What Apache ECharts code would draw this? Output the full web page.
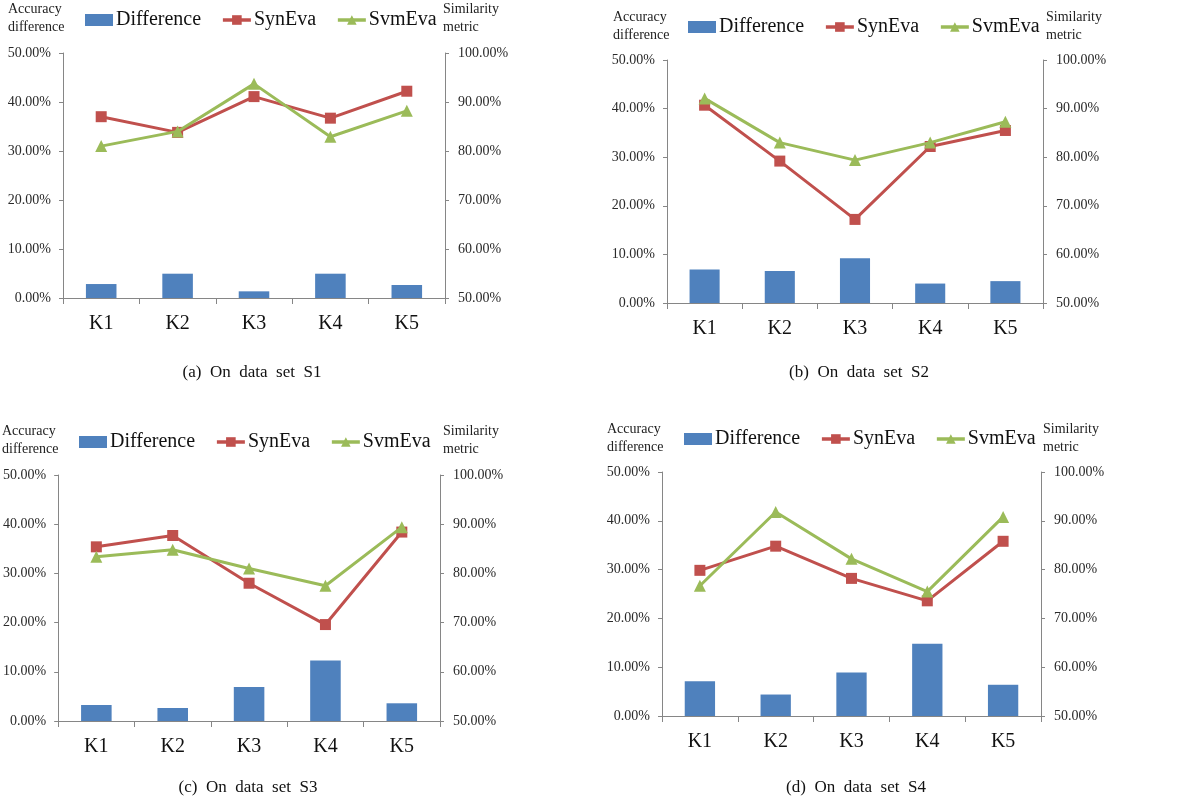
<!DOCTYPE html>
<html>
<head>
<meta charset="utf-8">
<script src="https://cdn.jsdelivr.net/npm/echarts@6/dist/echarts.min.js"></script>
<style>
html,body{margin:0;padding:0;background:#fff;}
#main{width:1182px;height:805px;}
</style>
</head>
<body>
<div id="main"></div>
<script>
const categories = ['K1','K2','K3','K4','K5'];
const leftTicks = [0, 10, 20, 30, 40, 50];
const rightTicks = [50, 60, 70, 80, 90, 100];

const diffS1 = [2.85, 4.96, 1.36, 4.96, 2.65];
const synS1  = [87.0, 83.8, 91.1, 86.7, 92.2];
const svmS1  = [81.0, 84.0, 93.7, 82.9, 88.2];

const diffS2 = [6.9, 6.6, 9.2, 4.0, 4.5];
const synS2  = [90.7, 79.2, 67.2, 82.2, 85.5];
const svmS2  = [92.1, 83.0, 79.4, 83.0, 87.3];

const diffS3 = [3.25, 2.64, 6.9, 12.3, 3.6];
const synS3  = [85.4, 87.7, 78.0, 69.6, 88.4];
const svmS3  = [83.4, 84.8, 81.0, 77.5, 89.4];

const diffS4 = [7.1, 4.4, 8.9, 14.8, 6.4];
const synS4  = [79.85, 84.8, 78.2, 73.6, 85.8];
const svmS4  = [76.7, 91.8, 82.2, 75.5, 90.8];

const captions = ['(a)  On  data  set  S1', '(b)  On  data  set  S2', '(c)  On  data  set  S3', '(d)  On  data  set  S4'];
const seriesNames = ['Difference', 'SynEva', 'SvmEva'];

const panels = [
  {diff: diffS1, syn: synS1, svm: svmS1, grid: {left: 63, top: 53, width: 382, height: 245},
   legend: {left: 85, top: 10}, acc: [8, 0], sim: [443, 0], cap: [252, 373]},
  {diff: diffS2, syn: synS2, svm: svmS2, grid: {left: 667, top: 60, width: 376, height: 243},
   legend: {left: 688, top: 17}, acc: [613, 8], sim: [1046, 8], cap: [859, 373]},
  {diff: diffS3, syn: synS3, svm: svmS3, grid: {left: 57, top: 475, width: 383, height: 246},
   legend: {left: 79, top: 432}, acc: [2, 422], sim: [443, 422], cap: [248, 788]},
  {diff: diffS4, syn: synS4, svm: svmS4, grid: {left: 662, top: 472, width: 379, height: 244},
   legend: {left: 684, top: 429}, acc: [607, 420], sim: [1043, 420], cap: [856, 788]}
];

const FONT = '"Liberation Serif", "DejaVu Serif", serif';
const AXIS_COLOR = '#868686';
const BAR_COLOR = '#4F81BD';
const SYN_COLOR = '#C0504D';
const SVM_COLOR = '#9BBB59';

const grids = [], xAxes = [], yAxes = [], series = [], legends = [], graphics = [];

panels.forEach((p, i) => {
  grids.push(Object.assign({containLabel: false}, p.grid));
  xAxes.push({
    type: 'category', gridIndex: i, data: categories, boundaryGap: true,
    axisLine: {lineStyle: {color: AXIS_COLOR, width: 1}},
    axisTick: {show: true, alignWithLabel: false, length: 6, lineStyle: {color: AXIS_COLOR}},
    axisLabel: {color: '#111', fontFamily: FONT, fontSize: 20, margin: 16}
  });
  yAxes.push({
    type: 'value', gridIndex: i, position: 'left', min: leftTicks[0], max: leftTicks[leftTicks.length - 1], interval: 10,
    splitLine: {show: false},
    axisLine: {show: true, lineStyle: {color: AXIS_COLOR}},
    axisTick: {show: true, length: 4, lineStyle: {color: AXIS_COLOR}},
    axisLabel: {color: '#2a2a2a', fontFamily: FONT, fontSize: 14, margin: 12,
      formatter: v => v.toFixed(2) + '%'}
  });
  yAxes.push({
    type: 'value', gridIndex: i, position: 'right', min: rightTicks[0], max: rightTicks[rightTicks.length - 1], interval: 10,
    splitLine: {show: false},
    axisLine: {show: true, lineStyle: {color: AXIS_COLOR}},
    axisTick: {show: true, length: 4, lineStyle: {color: AXIS_COLOR}},
    axisLabel: {color: '#2a2a2a', fontFamily: FONT, fontSize: 14, margin: 13,
      formatter: v => v.toFixed(2) + '%'}
  });
  series.push({
    name: seriesNames[0], type: 'bar', xAxisIndex: i, yAxisIndex: 2 * i,
    data: p.diff, barWidth: '40%', itemStyle: {color: BAR_COLOR}, z: 2
  });
  series.push({
    name: seriesNames[1], type: 'line', xAxisIndex: i, yAxisIndex: 2 * i + 1,
    data: p.syn, symbol: 'rect', symbolSize: 11, lineStyle: {color: SYN_COLOR, width: 3},
    itemStyle: {color: SYN_COLOR}, z: 3
  });
  series.push({
    name: seriesNames[2], type: 'line', xAxisIndex: i, yAxisIndex: 2 * i + 1,
    data: p.svm, symbol: 'triangle', symbolSize: 12, lineStyle: {color: SVM_COLOR, width: 3},
    itemStyle: {color: SVM_COLOR}, z: 4
  });
  legends.push({
    left: p.legend.left, top: p.legend.top, padding: 0, itemGap: 20, itemWidth: 28, itemHeight: 12,
    lineStyle: {width: 3.5},
    data: [
      {name: seriesNames[0], icon: 'rect'},
      {name: seriesNames[1]},
      {name: seriesNames[2]}
    ],
    textStyle: {fontFamily: FONT, fontSize: 20, color: '#111', lineHeight: 20, padding: [0, 0, 0, -2]}
  });
  graphics.push({
    type: 'text', left: p.acc[0], top: p.acc[1],
    style: {text: 'Accuracy\ndifference', font: '14px ' + FONT, fill: '#222', lineHeight: 18}
  });
  graphics.push({
    type: 'text', left: p.sim[0], top: p.sim[1],
    style: {text: 'Similarity\nmetric', font: '14px ' + FONT, fill: '#222', lineHeight: 18}
  });
  graphics.push({
    type: 'text', x: p.cap[0], y: p.cap[1],
    style: {text: captions[i], font: '17px ' + FONT, fill: '#111', align: 'center', verticalAlign: 'middle'}
  });
});

const chart = echarts.init(document.getElementById('main'), null, {renderer: 'canvas'});
chart.setOption({
  animation: false,
  backgroundColor: '#fff',
  grid: grids, xAxis: xAxes, yAxis: yAxes, series: series, legend: legends, graphic: graphics
});
</script>
</body>
</html>
